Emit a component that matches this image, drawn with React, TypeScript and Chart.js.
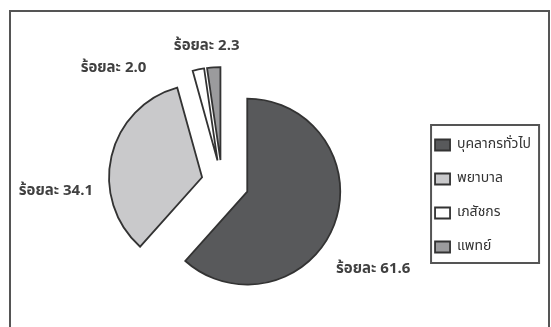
import React, { useEffect, useRef } from 'react';
import { Chart, registerables } from 'chart.js';

Chart.register(...registerables);

// ---- data ----
const categories = ['บุคลากรทั่วไป', 'พยาบาล', 'เภสัชกร', 'แพทย์'];
const percentValues = [61.6, 34.1, 2.0, 2.3];
const labelPrefix = 'ร้อยละ';

// ---- styles ----
const sliceColors = ['#58595b', '#c9c9cb', '#ffffff', '#9b9b9d'];
const explodeDistances = [27, 20.5, 22, 22];
const labelNudges: [number, number][] = [[26, 40], [-42, 39], [-82, 13], [-6, -6]];
const FONT = '"Noto Sans Thai", "Noto Sans", "DejaVu Sans", sans-serif';

export default function App() {
  const ref = useRef<HTMLCanvasElement>(null);

  useEffect(() => {
    if (!ref.current) return;

    const framePlugin = {
      id: 'outerFrame',
      beforeDraw(chart: any) {
        const ctx = chart.ctx;
        ctx.save();
        ctx.strokeStyle = '#555555';
        ctx.lineWidth = 2;
        ctx.strokeRect(10, 11, 539, 340);
        ctx.restore();
      },
    };

    const explodePlugin = {
      id: 'explodeSlices',
      beforeDatasetDraw(chart: any, args: any) {
        const ctx = chart.ctx;
        args.meta.data.forEach((el: any, i: number) => {
          const mid = (el.startAngle + el.endAngle) / 2;
          const t = explodeDistances[i] || 0;
          ctx.save();
          ctx.translate(Math.cos(mid) * t, Math.sin(mid) * t);
          el.draw(ctx);
          ctx.restore();
        });
        return false;
      },
    };

    const labelPlugin = {
      id: 'sliceLabels',
      afterDatasetsDraw(chart: any) {
        const ctx = chart.ctx;
        const meta = chart.getDatasetMeta(0);
        ctx.save();
        ctx.font = `bold 15px ${FONT}`;
        ctx.fillStyle = '#404040';
        ctx.textAlign = 'center';
        ctx.textBaseline = 'middle';
        meta.data.forEach((el: any, i: number) => {
          const mid = (el.startAngle + el.endAngle) / 2;
          const t = explodeDistances[i] || 0;
          const d = t + el.outerRadius + 14;
          const x = el.x + Math.cos(mid) * d + labelNudges[i][0];
          const y = el.y + Math.sin(mid) * d + labelNudges[i][1];
          ctx.fillText(`${labelPrefix} ${percentValues[i].toFixed(1)}`, x, y);
        });
        ctx.restore();
      },
    };

    const legendFramePlugin = {
      id: 'legendFrame',
      afterDraw(chart: any) {
        const hb = chart.legend && chart.legend.legendHitBoxes;
        if (!hb || !hb.length) return;
        const first = hb[0];
        const last = hb[hb.length - 1];
        const ctx = chart.ctx;
        ctx.save();
        ctx.strokeStyle = '#555555';
        ctx.lineWidth = 2;
        const left = first.left - 4;
        const top = first.top - 13;
        ctx.strokeRect(left, top, 108, last.top + last.height + 9 - top);
        ctx.restore();
      },
    };

    const chart = new Chart(ref.current, {
      type: 'pie',
      data: {
        labels: categories,
        datasets: [
          {
            data: percentValues,
            backgroundColor: sliceColors,
            borderColor: '#333333',
            borderWidth: 1.8,
            borderJoinStyle: 'miter',
            radius: 93,
          } as any,
        ],
      },
      options: {
        responsive: false,
        animation: false,
        layout: { padding: { left: 29, right: 10, top: 42, bottom: 5 } },
        plugins: {
          legend: {
            position: 'right',
            title: { display: true, text: '', padding: { top: 16, bottom: 0 }, font: { size: 10 } },
            labels: {
              boxWidth: 15,
              boxHeight: 11,
              padding: 20,
              color: '#333333',
              font: { family: FONT, size: 14 },
            },
          },
          tooltip: { enabled: false },
        },
      } as any,
      plugins: [framePlugin, explodePlugin, labelPlugin, legendFramePlugin],
    });

    return () => chart.destroy();
  }, []);

  return (
    <div style={{ position: 'fixed', left: 0, top: 0, width: 551, height: 327, background: '#fff' }}>
      <canvas ref={ref} width={551} height={327} />
    </div>
  );
}
